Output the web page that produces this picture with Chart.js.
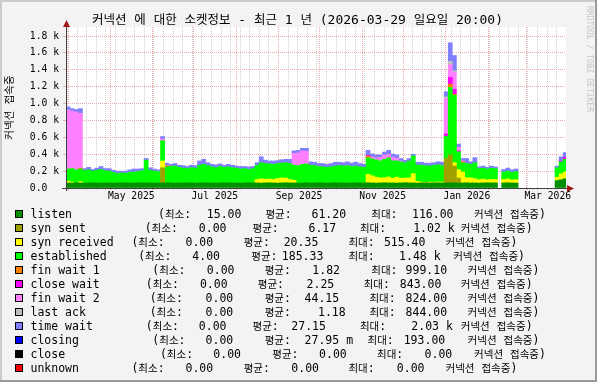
<!DOCTYPE html>
<html>
<head>
<meta charset="utf-8">
<script src="https://cdn.jsdelivr.net/npm/chart.js@4.4.1/dist/chart.umd.min.js"></script>
<style>
html,body{margin:0;padding:0;background:#f3f3f3;overflow:hidden}
canvas{display:block}
</style>
</head>
<body>
<canvas id="chart" width="597" height="382"></canvas>
<script>
// ================= DATA =================
const N = null;
const titleText = '커넥션 에 대한 소켓정보 - 최근 1 년 (2026-03-29 일요일 20:00)';
const yAxisTitle = '커넥션 접속중';
const watermark = 'RRDTOOL / TOBI OETIKER';
const stepDays = 3;            // consolidation step of each bar (days)
const spanDays = 365;          // 1 year window ending 2026-03-29 20:00
const yMax = 1907;
const monthLabels = [[2025,4,'May 2025'],[2025,6,'Jul 2025'],[2025,8,'Sep 2025'],[2025,10,'Nov 2025'],[2026,0,'Jan 2026'],[2026,2,'Mar 2026']];

const seriesNames = ['listen','syn sent','syn received','established','fin wait 1','close wait','fin wait 2','last ack','time wait','closing','close','unknown'];
const seriesColors = ['#009000','#A0A000','#FFFF00','#00FF00','#FF8000','#FF00FF','#FF80FF','#C0C0C0','#8080FF','#0000FF','#000000','#FF0000'];
const legendMin = ['15.00','0.00','0.00','4.00','0.00','0.00','0.00','0.00','0.00','0.00','0.00','0.00'];
const legendAvg = ['61.20','6.17','20.35','185.33','1.82','2.25','44.15','1.18','27.15','27.95 m','0.00','0.00'];
const legendMax = ['116.00','1.02 k','515.40','1.48 k','999.10','843.00','824.00','844.00','2.03 k','193.00','0.00','0.00'];

const listen = [60,60,62,60,58,60,62,60,58,60, 60,58,60,62,60,60,58,60,62,60, 60,58,60,60,62,60,58,60,60,62,
 60,58,60,62,60,60,58,60,62,60, 60,60,58,60,62,60,60,58,60,62, 60,58,60,62,60,60,58,60,62,60,
 60,62,60,58,60,62,60,60,58,60, 62,60,60,62,60,58,60,62,60,60, 58,60,62,60,60,58,60,62,60,60,
 62,60,60,62,60,58,60,62,60,60, 58,60,62,60,60,N,60,62,60,58, N,N,N,N,N,N,N,N,N,88, 98,110];
const synSent = [0,0,0,0,0,0,0,0,0,0, 0,0,0,0,0,0,0,0,0,0, 0,0,0,180,0,0,0,0,0,0,
 0,0,0,0,0,0,0,0,0,0, 0,0,0,0,0,0,0,0,0,0, 0,0,0,0,0,0,0,0,0,0,
 0,0,0,0,0,0,0,0,0,0, 0,0,0,0,0,0,0,0,0,0, 0,0,0,0,0,0,0,0,0,0,
 0,0,290,330,200,60,0,0,0,0, 0,0,0,0,0,N,0,0,0,0, N,N,N,N,N,N,N,N,N,0, 0,0];
const synRecv = [20,10,0,15,0,0,0,0,0,0, 0,0,0,0,0,0,0,0,0,0, 0,0,0,80,0,0,0,0,0,0,
 0,0,0,0,0,0,0,0,0,0, 0,0,0,0,0,0,40,50,45,45, 40,55,60,55,40,30,0,0,0,0,
 0,0,0,0,0,0,0,0,0,0, 0,0,0,100,85,70,60,60,70,55, 70,55,55,60,110,20,10,5,10,5,
 10,10,0,0,40,100,130,60,60,50, 40,45,35,40,40,N,40,45,35,40, N,N,N,N,N,N,N,N,N,40, 70,80];
const established = [145,160,153,150,147,155,138,150,162,145, 140,127,110,118,115,125,132,135,143,270, 150,142,135,240,188,195,202,185,175,168,
 180,177,210,218,205,190,182,195,183,190, 180,175,167,170,158,170,170,192,185,178, 180,177,175,183,190,180,207,220,223,210,
 205,193,190,187,190,198,205,200,207,195, 198,190,185,195,200,205,202,218,227,207, 194,195,181,200,210,197,200,198,190,205,
 203,195,260,798,800,212,110,168,160,190, 132,130,128,135,130,N,90,93,90,97, N,N,N,N,N,N,N,N,N,112, 142,150];
const finWait1 = [0,0,0,10,0,0,0,0,0,0, 0,0,0,0,0,0,0,0,0,0, 0,0,0,0,15,0,0,0,0,0,
 0,0,0,0,0,0,0,0,0,0, 0,0,0,0,0,0,0,0,0,0, 0,0,0,0,0,0,0,0,0,0,
 0,0,0,0,0,0,0,0,0,0, 0,0,0,20,0,0,0,0,0,0, 0,0,0,0,0,0,0,0,0,0,
 0,0,0,40,10,0,10,0,0,0, 0,0,0,0,0,N,0,0,0,0, N,N,N,N,N,N,N,N,N,0, 0,0];
const closeWait = [0,0,0,0,0,0,0,0,0,0, 0,0,0,0,0,0,0,0,0,0, 0,0,0,0,0,0,0,0,0,0,
 0,0,0,0,0,0,0,0,0,0, 0,0,0,0,0,0,0,0,0,0, 0,0,0,0,0,0,0,0,0,0,
 0,0,0,0,0,0,0,0,0,0, 0,0,0,10,0,0,0,0,0,0, 0,0,0,0,0,0,0,0,0,0,
 0,0,30,80,60,10,0,0,0,0, 0,0,0,0,0,N,0,0,0,0, N,N,N,N,N,N,N,N,N,0, 10,25];
const finWait2 = [700,680,685,650,0,0,0,0,0,0, 0,0,0,0,0,0,0,0,0,0, 0,0,0,20,0,0,0,0,0,0,
 0,0,0,0,0,0,0,0,0,0, 0,0,0,0,0,0,0,0,0,0, 0,0,0,0,0,140,150,160,150,0,
 0,0,0,0,0,0,0,0,0,0, 0,0,0,0,20,25,40,50,40,40, 30,10,0,0,0,0,0,0,0,0,
 0,0,420,150,200,40,10,0,0,0, 0,0,0,0,0,N,0,0,0,0, N,N,N,N,N,N,N,N,N,0, 0,0];
const lastAck = [0,0,0,0,0,0,0,0,0,0, 0,0,0,0,0,0,0,0,0,0, 0,0,0,0,0,0,0,0,0,0,
 0,0,0,0,0,0,0,0,0,0, 0,0,0,0,0,0,0,0,0,0, 0,0,0,0,0,0,0,0,0,0,
 0,0,0,0,0,0,0,0,0,0, 0,0,0,0,0,0,0,0,0,0, 0,0,0,0,0,0,0,0,0,0,
 0,0,20,40,20,0,0,0,0,0, 0,0,0,0,0,N,0,0,0,0, N,N,N,N,N,N,N,N,N,0, 0,0];
const timeWait = [35,30,30,55,25,30,20,25,35,25, 30,25,30,20,25,30,35,30,25,20, 30,25,20,30,30,25,30,25,30,25,
 30,30,50,60,35,30,35,30,25,30, 30,25,30,25,30,25,30,70,40,35, 40,35,40,40,50,30,30,30,35,40,
 40,35,40,35,40,45,40,40,45,40, 45,40,35,60,40,35,30,35,50,40, 40,30,30,30,20,30,35,30,35,30,
 35,40,60,220,180,40,30,60,30,60, 20,25,20,25,20,N,30,35,30,30, N,N,N,N,N,N,N,N,N,20, 50,55];
const closing = [0,0,0,0,0,0,0,0,0,0, 0,0,0,0,0,0,0,0,0,0, 0,0,0,0,0,0,0,0,0,0,
 0,0,0,0,0,0,0,0,0,0, 0,0,0,0,0,0,0,0,0,0, 0,0,0,0,0,0,0,0,0,0,
 0,0,0,0,0,0,0,0,0,0, 0,0,0,0,0,0,0,0,0,0, 0,0,0,0,0,0,0,0,0,0,
 0,0,0,0,0,0,0,0,0,0, 0,0,0,0,0,N,0,0,0,0, N,N,N,N,N,N,N,N,N,0, 0,0];
const close_ = [0,0,0,0,0,0,0,0,0,0, 0,0,0,0,0,0,0,0,0,0, 0,0,0,0,0,0,0,0,0,0,
 0,0,0,0,0,0,0,0,0,0, 0,0,0,0,0,0,0,0,0,0, 0,0,0,0,0,0,0,0,0,0,
 0,0,0,0,0,0,0,0,0,0, 0,0,0,0,0,0,0,0,0,0, 0,0,0,0,0,0,0,0,0,0,
 0,0,0,0,0,0,0,0,0,0, 0,0,0,0,0,N,0,0,0,0, N,N,N,N,N,N,N,N,N,0, 0,0];
const unknown = [0,0,0,0,0,0,0,0,0,0, 0,0,0,0,0,0,0,0,0,0, 0,0,0,0,0,0,0,0,0,0,
 0,0,0,0,0,0,0,0,0,0, 0,0,0,0,0,0,0,0,0,0, 0,0,0,0,0,0,0,0,0,0,
 0,0,0,0,0,0,0,0,0,0, 0,0,0,0,0,0,0,0,0,0, 0,0,0,0,0,0,0,0,0,0,
 0,0,0,0,0,0,0,0,0,0, 0,0,0,0,0,N,0,0,0,0, N,N,N,N,N,N,N,N,N,0, 0,0];
const seriesValues = [listen, synSent, synRecv, established, finWait1, closeWait, finWait2, lastAck, timeWait, closing, close_, unknown];

// ================= LAYOUT / STYLE =================
const W = 597, H = 382;
const plot = {left: 66, right: 566, top: 27, bottom: 188};
const majorGrid = '#F0A8A8', minorGrid = '#D2D2D2';
const monoFam = "'DejaVu Sans Mono'";
const cjkFam = "'Noto Sans CJK KR'";
const legendX = [
  [158,206.8,265.4,311.5,371.3,412,474.1],
  [144.7,198.8,252.5,308.5,359.9,413.2,460.8],
  [131.4,185.5,243.7,283.7,348.4,383.9,445.5],
  [138.2,192.3,251.3,281.8,348.4,399.1,453.2],
  [152.3,206.8,264.7,312.3,371.3,405.6,467.6],
  [145.8,199.9,257.8,306.6,363.7,399.8,460.8],
  [149.7,205.6,264.7,304.6,369.4,405.6,467.6],
  [149.7,205.6,264.7,318,369.4,405.6,467.6],
  [145.8,198.8,252.5,291.3,359.9,411.3,460.8],
  [152.3,205.6,264.7,304.6,367.5,403.7,467.6],
  [159.9,213.3,272.3,319.1,377,424.6,474.1],
  [131.4,185.5,243.7,291.3,348.4,396.8,445.5]
];

const DAY = 86400000;
const T0 = Date.UTC(2025, 2, 29, 20, 0);
const dayOf = (y, m, d) => (Date.UTC(y, m, d) - T0) / DAY;

function isHangul(ch) { return /[\u1100-\u11FF\u3130-\u318F\uAC00-\uD7AF]/.test(ch); }
function runsOf(text) {
  const runs = []; let cur = '', curH = null;
  for (const ch of text) {
    const h = isHangul(ch);
    if (curH === null || h === curH) { cur += ch; curH = h; }
    else { runs.push([cur, curH]); cur = ch; curH = h; }
  }
  if (cur) runs.push([cur, curH]);
  return runs;
}
function measureMixed(ctx, text, af, cf) {
  let w = 0;
  for (const [s, h] of runsOf(text)) { ctx.font = h ? cf : af; w += ctx.measureText(s).width; }
  return w;
}
function drawMixed(ctx, text, x, y, af, cf) {
  for (const [s, h] of runsOf(text)) { ctx.font = h ? cf : af; ctx.fillText(s, x, y); x += ctx.measureText(s).width; }
  return x;
}

const framePlugin = {
  id: 'frame',
  beforeDraw(chart) {
    const ctx = chart.ctx, a = chart.chartArea;
    ctx.save();
    ctx.fillStyle = '#F3F3F3'; ctx.fillRect(0, 0, W, H);
    ctx.fillStyle = '#CBCBCB'; ctx.fillRect(0, 0, W, 2); ctx.fillRect(0, 0, 2, H);
    ctx.fillStyle = '#999999'; ctx.fillRect(0, H - 2, W, 2); ctx.fillRect(W - 2, 0, 2, H);
    ctx.fillStyle = '#FFFFFF'; ctx.fillRect(a.left, a.top, a.right - a.left, a.bottom - a.top);
    ctx.restore();
  },
  afterDatasetsDraw(chart) {
    const ctx = chart.ctx, a = chart.chartArea;
    ctx.save();
    ctx.strokeStyle = '#404040'; ctx.lineWidth = 1;
    ctx.beginPath();
    ctx.moveTo(a.left - 4, a.bottom + 0.5); ctx.lineTo(a.right + 2, a.bottom + 0.5);
    ctx.moveTo(a.left + 0.5, a.bottom + 3); ctx.lineTo(a.left + 0.5, a.top - 1);
    ctx.stroke();
    ctx.fillStyle = '#A01818';
    ctx.beginPath();
    ctx.moveTo(a.right + 1, a.bottom - 3); ctx.lineTo(a.right + 8, a.bottom + 0.5); ctx.lineTo(a.right + 1, a.bottom + 4); ctx.closePath(); ctx.fill();
    ctx.beginPath();
    ctx.moveTo(a.left - 3, a.top); ctx.lineTo(a.left + 0.5, a.top - 7); ctx.lineTo(a.left + 4, a.top); ctx.closePath(); ctx.fill();
    ctx.restore();
  },
  afterDraw(chart) {
    const ctx = chart.ctx;
    ctx.save();
    ctx.fillStyle = '#000';
    ctx.textBaseline = 'alphabetic';
    // title
    const tA = '13px ' + monoFam, tC = '12.5px ' + cjkFam;
    const tw = measureMixed(ctx, titleText, tA, tC);
    drawMixed(ctx, titleText, 297.5 - tw / 2, 23.5, tA, tC);
    // watermark
    ctx.save();
    ctx.translate(587, 6);
    ctx.rotate(Math.PI / 2);
    ctx.fillStyle = '#C4C4C4';
    ctx.font = '8px ' + monoFam;
    ctx.fillText(watermark, 0, 0);
    ctx.restore();
    // legend
    const lA = '11.5px ' + monoFam, lC = '10.5px ' + cjkFam;
    seriesNames.forEach((name, k) => {
      const cy = 214 + k * 14;
      const base = cy + 4;
      ctx.fillStyle = seriesColors[k];
      ctx.fillRect(15, cy - 4, 8, 8);
      ctx.strokeStyle = '#000'; ctx.lineWidth = 1;
      ctx.strokeRect(15.5, cy - 3.5, 7, 7);
      ctx.fillStyle = '#000';
      const px = legendX[k];
      const tokens = [name, '(최소:', legendMin[k], '평균:', legendAvg[k], '최대:', legendMax[k], '커넥션 접속중)'];
      const xs = [30.5].concat(px);
      tokens.forEach((t, j) => drawMixed(ctx, t, xs[j], base, lA, lC));
    });
    ctx.restore();
  }
};

const barPx = (plot.right - plot.left) / spanDays * stepDays;

const datasets = seriesNames.map((name, k) => ({
  label: name,
  data: seriesValues[k].map((v, i) => ({x: i * stepDays + stepDays / 2, y: v === 0 ? null : v})),
  backgroundColor: seriesColors[k],
  borderWidth: 0,
  barThickness: barPx,
  clip: 0
}));

function xTicks(scale) {
  const t = [];
  for (let d = dayOf(2025, 2, 31); d <= spanDays; d += 7) t.push({value: d, kind: 'minor'});
  for (let k = 0; k < 13; k++) { const d = dayOf(2025, 3 + k, 1); if (d <= spanDays) t.push({value: d, kind: 'major'}); }
  monthLabels.forEach(([y, m, text]) => t.push({value: (dayOf(y, m, 1) + dayOf(y, m + 1, 1)) / 2, kind: 'label', text}));
  t.sort((a, b) => a.value - b.value);
  scale.ticks = t;
}
const xGridColor = c => {
  const k = c.tick && c.tick.kind;
  return k === 'major' ? majorGrid : (k === 'minor' ? minorGrid : 'rgba(0,0,0,0)');
};
const yGridColor = c => (c.tick && c.tick.value % 200 === 0) ? majorGrid : minorGrid;

new Chart(document.getElementById('chart'), {
  type: 'bar',
  data: {datasets},
  options: {
    responsive: false,
    animation: false,
    devicePixelRatio: 1,
    layout: {padding: {left: 0, right: W - plot.right, top: plot.top, bottom: H - plot.bottom - 20}},
    plugins: {legend: {display: false}, tooltip: {enabled: false}, title: {display: false}},
    scales: {
      x: {
        type: 'linear', min: 0, max: spanDays, stacked: true, offset: false,
        afterFit: s => { s.height = 20; },
        afterBuildTicks: xTicks,
        grid: {offset: false, color: xGridColor, tickColor: xGridColor, lineWidth: 1, drawTicks: true, tickLength: 2},
        border: {display: false, dash: [1, 1]},
        ticks: {
          autoSkip: false, maxRotation: 0, minRotation: 0, padding: 1, color: '#000',
          font: {family: 'DejaVu Sans Mono', size: 9.7},
          callback: (v, i, ticks) => ticks[i].kind === 'label' ? ticks[i].text : ''
        }
      },
      y: {
        min: 0, max: yMax, stacked: true,
        afterFit: s => { s.width = plot.left; },
        afterBuildTicks: s => { const t = []; for (let v = 0; v <= 1900; v += 100) t.push({value: v}); s.ticks = t; },
        grid: {color: yGridColor, tickColor: yGridColor, lineWidth: 1, drawTicks: true, tickLength: 3},
        border: {display: false, dash: [1, 1]},
        ticks: {
          padding: 4, color: '#000',
          font: {family: 'DejaVu Sans Mono', size: 9.7},
          callback: v => v % 200 === 0 ? (v === 0 ? '0.0  ' : (v / 1000).toFixed(1) + ' k') : ''
        },
        title: {display: true, text: yAxisTitle, color: '#000', font: {family: "'DejaVu Sans Mono','Noto Sans CJK KR'", size: 10.5}, padding: {top: 4, bottom: 0}}
      }
    }
  },
  plugins: [framePlugin]
});
</script>
</body>
</html>
